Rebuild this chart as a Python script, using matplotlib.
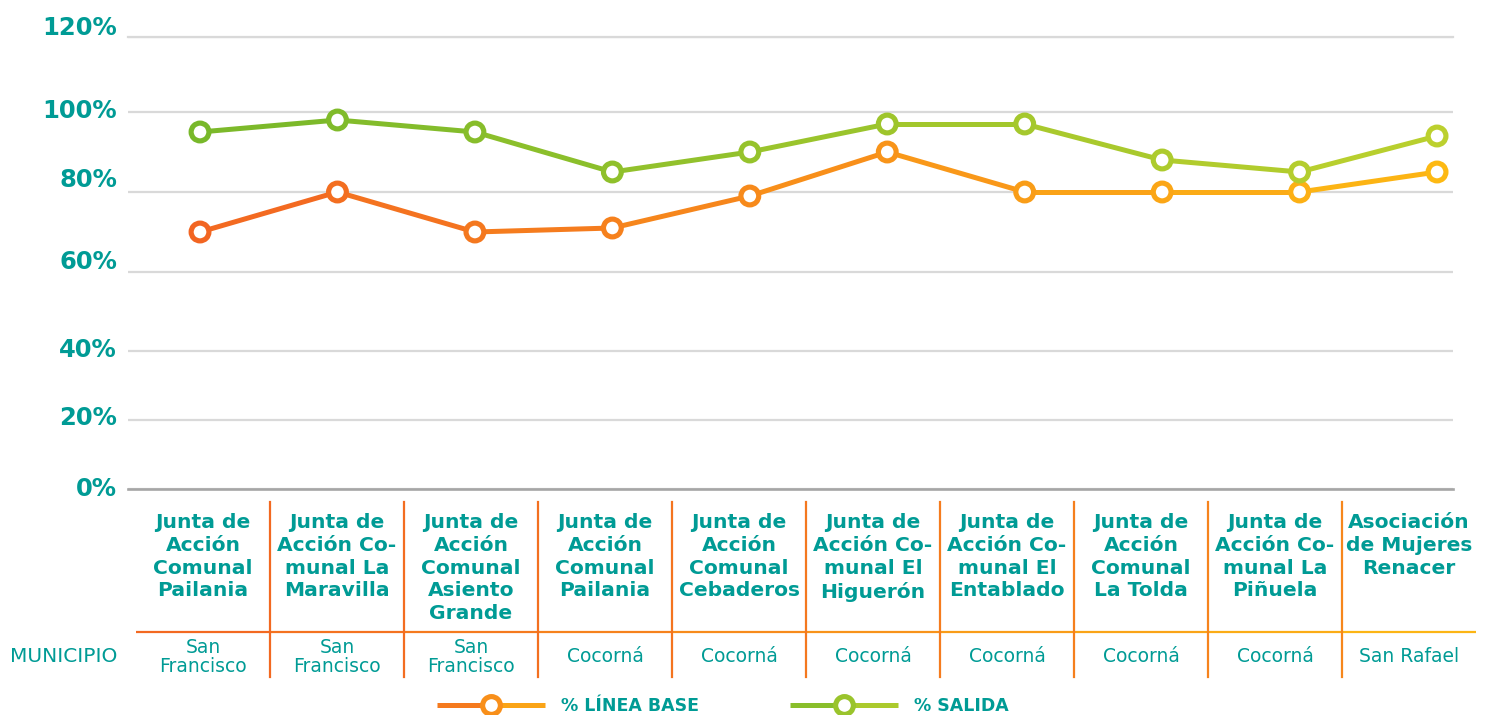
# -*- coding: utf-8 -*-
import numpy as np
import matplotlib
matplotlib.use('Agg')
import matplotlib.pyplot as plt
import matplotlib.colors as mcolors
from matplotlib.collections import LineCollection
from matplotlib import transforms

# datos del grafico
categorias = ['Junta de\nAcción\nComunal\nPailania',
              'Junta de\nAcción Co-\nmunal La\nMaravilla',
              'Junta de\nAcción\nComunal\nAsiento\nGrande',
              'Junta de\nAcción\nComunal\nPailania',
              'Junta de\nAcción\nComunal\nCebaderos',
              'Junta de\nAcción Co-\nmunal El\nHiguerón',
              'Junta de\nAcción Co-\nmunal El\nEntablado',
              'Junta de\nAcción\nComunal\nLa Tolda',
              'Junta de\nAcción Co-\nmunal La\nPiñuela',
              'Asociación\nde Mujeres\nRenacer']
municipios = ['San\nFrancisco', 'San\nFrancisco', 'San\nFrancisco', 'Cocorná', 'Cocorná',
              'Cocorná', 'Cocorná', 'Cocorná', 'Cocorná', 'San Rafael']
linea_base = [70, 80, 70, 71, 79, 90, 80, 80, 80, 85]
salida = [95, 98, 95, 85, 90, 97, 97, 88, 85, 94]
y_ticks = [0, 20, 40, 60, 80, 100, 120]
y_labels = ['0%', '20%', '40%', '60%', '80%', '100%', '120%']

# escala no lineal del original (altura en px de cada marca)
escala_px = [0, 69, 138, 217, 297, 377, 452]
label_dy = [0, 2, 1, 10, 12, 1, 9]

TEAL = '#009B95'
NAR0, NAR1 = '#F26522', '#FDB913'
VER0, VER1 = '#78B82A', '#BCD02E'
plt.rcParams['font.family'] = ['DejaVu Sans']

MS, MEW = 12.8, 3.7


def mezcla(c0, c1, t):
    a = np.array(mcolors.to_rgb(c0))
    b = np.array(mcolors.to_rgb(c1))
    return tuple(a + (b - a) * t)


def fwd(v):
    return np.interp(v, y_ticks, escala_px)


def inv(v):
    return np.interp(v, escala_px, y_ticks)


W, H = 1493, 715
fig = plt.figure(figsize=(W / 100, H / 100), dpi=100)
ax = fig.add_axes([128 / W, (H - 489) / H, (1453 - 128) / W, (489 - 37) / H])
ax.set_yscale('function', functions=(fwd, inv))
ax.set_ylim(0, 120)
n = len(categorias)
x = np.arange(n)
ax.set_xlim(-0.524, 9.116)
ax.set_yticks(y_ticks)
ax.set_xticks([])
ax.tick_params(axis='y', length=0, labelleft=False)
for s in ax.spines.values():
    s.set_visible(False)
ax.yaxis.grid(True, color='#D9D9D9', lw=1.6)
ax.set_axisbelow(True)
ax.axhline(120, color='#D9D9D9', lw=1.6, clip_on=False, zorder=0)
ax.axhline(0, color='#A6A6A6', lw=1.9, clip_on=False, zorder=1)

# etiquetas del eje y
trans = transforms.blended_transform_factory(ax.transAxes, ax.transData)
for t, lab, dy in zip(y_ticks, y_labels, label_dy):
    tr = transforms.offset_copy(trans, fig=fig, x=-11, y=dy, units='dots')
    ax.text(0, t, lab, transform=tr, ha='right', va='center', color=TEAL,
            fontsize=17.5, fontweight='bold')


def serie(vals, c0, c1):
    segs = [[(x[i], vals[i]), (x[i + 1], vals[i + 1])] for i in range(n - 1)]
    cols = [mezcla(c0, c1, (i + 0.5) / (n - 1)) for i in range(n - 1)]
    lc = LineCollection(segs, colors=cols, linewidths=3.6, capstyle='round', zorder=2)
    ax.add_collection(lc)
    ec = [mezcla(c0, c1, i / (n - 1)) for i in range(n)]
    ax.scatter(x, vals, s=MS ** 2, facecolors='white', edgecolors=ec,
               linewidths=MEW, zorder=3, clip_on=False)


serie(linea_base, NAR0, NAR1)
serie(salida, VER0, VER1)

# tabla inferior y leyenda en coordenadas de pixel
ov = fig.add_axes([0, 0, 1, 1], zorder=-1)
ov.set_xlim(0, W)
ov.set_ylim(H, 0)
ov.axis('off')
t_left, t_right = 136, 1476
cw = (t_right - t_left) / n
hsegs = [[(t_left + i * cw, 632), (t_left + (i + 1) * cw, 632)] for i in range(n)]
hcols = [mezcla(NAR0, NAR1, (i + 0.5) / n) for i in range(n)]
ov.add_collection(LineCollection(hsegs, colors=hcols, linewidths=1.6))
for i in range(1, n):
    xb = t_left + i * cw
    ov.plot([xb, xb], [502, 677], color=mezcla(NAR0, NAR1, 0.45 * i / n), lw=1.6)
for i in range(n):
    xc = t_left + (i + 0.5) * cw
    ov.text(xc, 513, categorias[i], ha='center', va='top', color=TEAL,
            fontsize=14.6, fontweight='bold', linespacing=1.25)
    ov.text(xc, 657, municipios[i], ha='center', va='center', color=TEAL,
            fontsize=13.5, linespacing=0.95)
ov.text(10, 657, 'MUNICIPIO', ha='left', va='center', color=TEAL, fontsize=14.5)

# leyenda
for x0, c0, c1, lab in [(437, NAR0, NAR1, '% LÍNEA BASE'), (790, VER0, VER1, '% SALIDA')]:
    ov.plot([x0, x0 + 54], [705, 705], color=mezcla(c0, c1, 0.25), lw=3.6, solid_capstyle='butt')
    ov.plot([x0 + 54, x0 + 108], [705, 705], color=mezcla(c0, c1, 0.75), lw=3.6, solid_capstyle='butt')
    ov.scatter([x0 + 54], [705], s=MS ** 2, facecolors='white', edgecolors=[mezcla(c0, c1, 0.5)],
               linewidths=MEW, zorder=3)
    ov.text(x0 + 124, 706, lab, ha='left', va='center', color=TEAL, fontsize=12.5, fontweight='bold')

fig.savefig('out.png', dpi=100)
